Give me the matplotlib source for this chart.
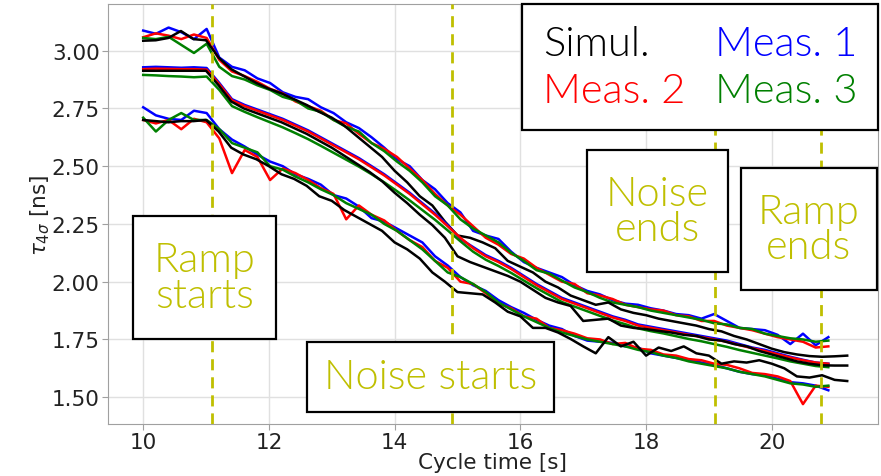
import numpy as np
import matplotlib
matplotlib.use("Agg")
import matplotlib.pyplot as plt
from matplotlib.patches import Rectangle
from matplotlib.lines import Line2D

# measured traces: 55 samples from 10.0 s to 20.9 s
t_meas = np.linspace(10.0, 20.9, 55)
# simulated traces: 57 samples from 10.0 s to 21.2 s
t_sim = np.linspace(10.0, 21.2, 57)

# upper bunch
blue_top = [3.087, 3.073, 3.100, 3.080, 3.050, 3.094, 2.970, 2.930, 2.915, 2.880,
            2.860, 2.820, 2.800, 2.790, 2.755, 2.730, 2.690, 2.665, 2.625, 2.580,
            2.530, 2.500, 2.440, 2.400, 2.340, 2.300, 2.220, 2.200, 2.185, 2.130,
            2.085, 2.060, 2.040, 2.020, 1.985, 1.960, 1.945, 1.920, 1.905, 1.900,
            1.885, 1.875, 1.860, 1.855, 1.840, 1.860, 1.830, 1.800, 1.795, 1.790,
            1.770, 1.730, 1.775, 1.725, 1.760]
red_top = [3.058, 3.075, 3.065, 3.050, 3.070, 3.055, 2.960, 2.910, 2.890, 2.865,
           2.835, 2.815, 2.780, 2.760, 2.740, 2.700, 2.685, 2.640, 2.600, 2.575,
           2.540, 2.490, 2.440, 2.380, 2.330, 2.290, 2.240, 2.190, 2.160, 2.120,
           2.100, 2.060, 2.030, 2.000, 1.990, 1.950, 1.940, 1.925, 1.900, 1.890,
           1.880, 1.875, 1.855, 1.850, 1.830, 1.830, 1.810, 1.800, 1.790, 1.775,
           1.760, 1.750, 1.740, 1.715, 1.720]
green_top = [3.055, 3.050, 3.060, 3.025, 2.990, 3.030, 2.930, 2.890, 2.875, 2.850,
             2.830, 2.800, 2.785, 2.750, 2.735, 2.700, 2.670, 2.650, 2.600, 2.565,
             2.520, 2.480, 2.430, 2.370, 2.330, 2.270, 2.230, 2.200, 2.170, 2.125,
             2.090, 2.050, 2.035, 2.005, 1.975, 1.955, 1.930, 1.910, 1.900, 1.890,
             1.875, 1.865, 1.855, 1.845, 1.835, 1.820, 1.815, 1.800, 1.795, 1.775,
             1.765, 1.755, 1.750, 1.740, 1.745]
sim_top = [3.043, 3.045, 3.055, 3.085, 3.050, 3.045, 2.970, 2.920, 2.890, 2.860,
           2.835, 2.815, 2.790, 2.765, 2.735, 2.710, 2.675, 2.630, 2.585, 2.540,
           2.480, 2.430, 2.370, 2.330, 2.260, 2.200, 2.190, 2.170, 2.145, 2.090,
           2.065, 2.040, 2.000, 1.975, 1.940, 1.920, 1.900, 1.910, 1.880, 1.865,
           1.855, 1.840, 1.830, 1.820, 1.810, 1.795, 1.785, 1.765, 1.750, 1.730,
           1.710, 1.695, 1.685, 1.678, 1.675, 1.677, 1.680]

# middle bunch
blue_mid = [2.928, 2.930, 2.928, 2.926, 2.928, 2.925, 2.860, 2.790, 2.765, 2.745,
            2.725, 2.705, 2.680, 2.655, 2.625, 2.595, 2.565, 2.535, 2.500, 2.465,
            2.425, 2.385, 2.340, 2.295, 2.245, 2.185, 2.150, 2.115, 2.090, 2.060,
            2.025, 1.990, 1.960, 1.930, 1.910, 1.890, 1.870, 1.850, 1.835, 1.815,
            1.805, 1.795, 1.785, 1.775, 1.765, 1.755, 1.745, 1.730, 1.715, 1.705,
            1.690, 1.675, 1.662, 1.650, 1.645]
red_mid = [2.920, 2.922, 2.921, 2.920, 2.920, 2.918, 2.855, 2.785, 2.760, 2.740,
           2.720, 2.700, 2.675, 2.650, 2.620, 2.590, 2.560, 2.530, 2.495, 2.460,
           2.420, 2.380, 2.335, 2.290, 2.240, 2.190, 2.145, 2.110, 2.085, 2.055,
           2.020, 1.985, 1.955, 1.925, 1.905, 1.885, 1.865, 1.845, 1.830, 1.810,
           1.800, 1.790, 1.780, 1.770, 1.760, 1.750, 1.740, 1.725, 1.712, 1.700,
           1.686, 1.672, 1.660, 1.650, 1.645]
green_mid = [2.895, 2.893, 2.890, 2.888, 2.885, 2.888, 2.830, 2.760, 2.735, 2.712,
             2.690, 2.668, 2.643, 2.617, 2.588, 2.558, 2.528, 2.498, 2.465, 2.430,
             2.392, 2.352, 2.310, 2.268, 2.222, 2.175, 2.130, 2.095, 2.068, 2.038,
             2.005, 1.972, 1.942, 1.912, 1.892, 1.872, 1.852, 1.832, 1.816, 1.798,
             1.786, 1.776, 1.764, 1.752, 1.742, 1.730, 1.718, 1.704, 1.692, 1.680,
             1.668, 1.655, 1.645, 1.635, 1.630]
sim_mid = [2.913, 2.913, 2.913, 2.913, 2.913, 2.913, 2.850, 2.780, 2.750, 2.730,
           2.710, 2.690, 2.665, 2.640, 2.610, 2.580, 2.545, 2.510, 2.475, 2.435,
           2.385, 2.340, 2.290, 2.245, 2.190, 2.110, 2.085, 2.065, 2.045, 2.025,
           2.000, 1.965, 1.930, 1.910, 1.895, 1.830, 1.835, 1.840, 1.810, 1.800,
           1.795, 1.787, 1.780, 1.770, 1.765, 1.750, 1.745, 1.730, 1.720, 1.700,
           1.685, 1.670, 1.655, 1.645, 1.638, 1.637, 1.637]

# lower bunch
blue_low = [2.755, 2.720, 2.705, 2.700, 2.740, 2.730, 2.660, 2.615, 2.585, 2.550,
            2.520, 2.500, 2.465, 2.445, 2.420, 2.375, 2.360, 2.325, 2.275, 2.260,
            2.230, 2.200, 2.170, 2.110, 2.070, 2.020, 1.985, 1.960, 1.920, 1.890,
            1.865, 1.835, 1.810, 1.795, 1.765, 1.745, 1.740, 1.735, 1.720, 1.715,
            1.690, 1.680, 1.670, 1.660, 1.650, 1.640, 1.625, 1.610, 1.600, 1.595,
            1.580, 1.565, 1.560, 1.550, 1.530]
red_low = [2.700, 2.685, 2.700, 2.660, 2.705, 2.690, 2.620, 2.470, 2.570, 2.540,
           2.440, 2.490, 2.470, 2.440, 2.405, 2.380, 2.270, 2.330, 2.290, 2.265,
           2.220, 2.180, 2.150, 2.090, 2.060, 2.000, 1.990, 1.950, 1.905, 1.885,
           1.850, 1.840, 1.800, 1.790, 1.775, 1.755, 1.750, 1.730, 1.735, 1.710,
           1.705, 1.685, 1.680, 1.665, 1.660, 1.645, 1.640, 1.625, 1.605, 1.600,
           1.590, 1.570, 1.470, 1.550, 1.545]
green_low = [2.710, 2.650, 2.700, 2.730, 2.700, 2.700, 2.660, 2.600, 2.580, 2.560,
             2.500, 2.485, 2.455, 2.430, 2.400, 2.375, 2.340, 2.315, 2.290, 2.250,
             2.220, 2.180, 2.140, 2.090, 2.040, 2.020, 1.990, 1.955, 1.910, 1.880,
             1.850, 1.825, 1.800, 1.780, 1.765, 1.750, 1.740, 1.730, 1.720, 1.705,
             1.695, 1.680, 1.670, 1.655, 1.645, 1.635, 1.625, 1.610, 1.600, 1.590,
             1.575, 1.560, 1.555, 1.545, 1.550]
sim_low = [2.700, 2.695, 2.690, 2.695, 2.695, 2.700, 2.650, 2.580, 2.550, 2.530,
           2.500, 2.465, 2.445, 2.415, 2.370, 2.350, 2.310, 2.280, 2.250, 2.220,
           2.170, 2.140, 2.100, 2.040, 2.000, 1.955, 1.950, 1.945, 1.910, 1.870,
           1.850, 1.800, 1.800, 1.780, 1.752, 1.720, 1.690, 1.760, 1.720, 1.740,
           1.680, 1.715, 1.700, 1.720, 1.690, 1.680, 1.645, 1.655, 1.650, 1.660,
           1.645, 1.625, 1.590, 1.585, 1.595, 1.575, 1.570]

event_times = [11.1, 14.92, 19.1, 20.78]
legend_labels = ["Simul.", "Meas. 2", "Meas. 1", "Meas. 3"]
legend_colors = ["k", "r", "b", "g"]

fig = plt.figure(figsize=(8.81, 4.77), dpi=100)
ax = fig.add_axes([108 / 881, 1 - 425 / 477, 770 / 881, 420 / 477])

groups = [(blue_top, red_top, green_top, sim_top),
          (blue_mid, red_mid, green_mid, sim_mid),
          (blue_low, red_low, green_low, sim_low)]
for b, r, g, s in groups:
    ax.plot(t_meas, b, color="b", lw=1.8)
    ax.plot(t_meas, r, color="r", lw=1.8)
    ax.plot(t_meas, g, color="g", lw=1.8)
    ax.plot(t_sim, s, color="k", lw=1.8)

for t in event_times:
    ax.axvline(t, color=(0.75, 0.75, 0.0), lw=2, ls=(0, (4, 2.5)), zorder=3)

ax.set_xlim(9.44, 21.69)
ax.set_ylim(1.384, 3.202)
ax.set_xticks([10, 12, 14, 16, 18, 20])
ax.set_yticks([1.5, 1.75, 2.0, 2.25, 2.5, 2.75, 3.0])
ax.yaxis.set_major_formatter(matplotlib.ticker.FormatStrFormatter("%.2f"))
ax.grid(True, color="#e0e0e0", lw=1)
ax.set_axisbelow(True)
for sp in ax.spines.values():
    sp.set_color("#a0a0a0")
ax.tick_params(labelsize=15.5, color="#a0a0a0", length=4, pad=2, labelcolor="#222222")
ax.set_xlabel("Cycle time [s]", fontsize=15.5, labelpad=0, color="#222222")
ax.set_ylabel(r"$\tau_{4\sigma}$ [ns]", fontsize=15.5, labelpad=0, color="#222222")

note_font = matplotlib.font_manager.FontProperties(family="Lato", weight=300, size=30)
note_color = (0.75, 0.75, 0.0)


def px_box(x0, y0, x1, y1):
    # pixel box of the 881x477 picture -> axes fraction
    fx0 = (x0 - 108) / 770
    fx1 = (x1 - 108) / 770
    fy0 = (425 - y1) / 420
    fy1 = (425 - y0) / 420
    return fx0, fy0, fx1 - fx0, fy1 - fy0


def note(x0, y0, x1, y1, text):
    fx, fy, w, h = px_box(x0, y0, x1, y1)
    ax.add_patch(Rectangle((fx, fy), w, h, transform=ax.transAxes, facecolor="white",
                           edgecolor="black", lw=1.6, zorder=5, clip_on=False))
    ax.text(fx + w / 2, fy + h / 2, text, transform=ax.transAxes, ha="center",
            va="center", color=note_color, fontproperties=note_font,
            linespacing=0.95, zorder=6)


note(133, 217, 276, 340, "Ramp\nstarts")
note(307, 343, 554, 413, "Noise starts")
note(587, 151, 728, 273, "Noise\nends")
note(741, 169, 877, 291, "Ramp\nends")

handles = [Line2D([], [], color=c, lw=0) for c in legend_colors]
leg = ax.legend(handles, legend_labels, ncol=2, loc="upper right",
                bbox_to_anchor=(1.0, 1.0), prop=note_font, handlelength=0,
                handletextpad=0, columnspacing=0.7, labelspacing=0.25,
                borderpad=0.5, borderaxespad=0.0, fancybox=False, framealpha=1,
                edgecolor="black")
leg.get_frame().set_linewidth(1.6)
leg.set_zorder(7)
for txt, c in zip(leg.get_texts(), legend_colors):
    txt.set_color(c)

fig.savefig("out.png", dpi=100)
